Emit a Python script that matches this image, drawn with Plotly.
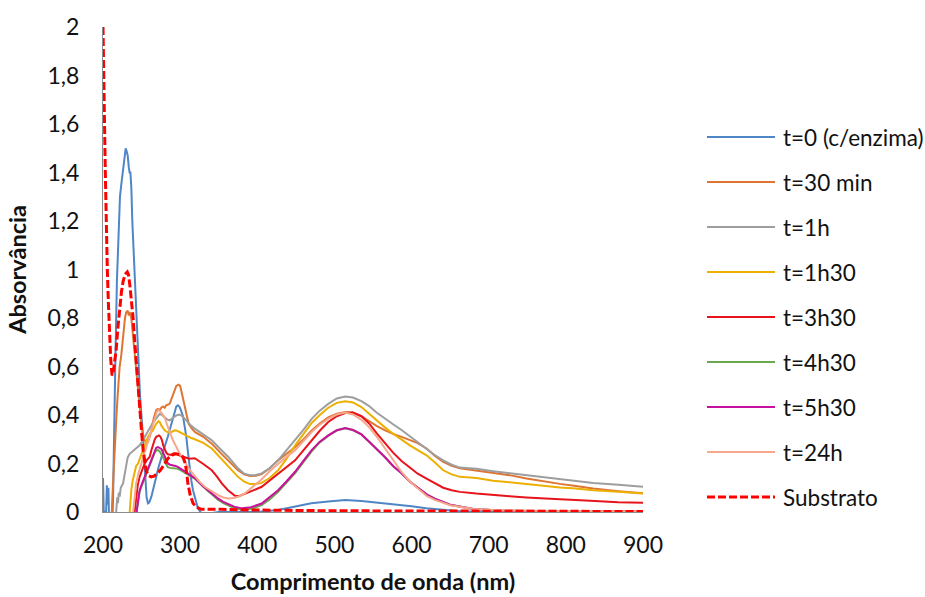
import plotly.graph_objects as go

# ---- spectra: wavelength (nm) and absorbance for each sample ----
wl_t0 = [200, 201, 204, 205, 206, 207, 208, 212, 213, 214, 216, 218, 219.5, 220.7, 222, 223.7, 225, 227, 228.5,
         229.4, 230.5, 232, 233.5, 234.5, 235.5, 236.7, 238, 240.2, 242, 245, 248, 251.8, 253.5, 254.9, 256.5,
         258.3, 260, 262.7, 266, 269, 272, 275.6, 280, 284, 288, 291, 293, 295, 297, 299, 301, 303.7, 306, 308,
         310, 312, 314.5, 316.7, 320, 323, 327.5, 332, 340, 350, 370, 400, 427, 449, 470, 492, 514, 535, 552,
         576, 600, 619, 640, 663, 700, 800, 900]
abs_t0 = [0.14, 0.0, 0.0, 0.11, 0.03, 0.10, -0.05, -0.05, 0.05, 0.3, 0.62, 0.95, 1.12, 1.23, 1.30, 1.35, 1.38, 1.44,
          1.48, 1.50, 1.49, 1.47, 1.42, 1.40, 1.40, 1.34, 1.20, 1.035, 0.88, 0.665, 0.48, 0.31, 0.20, 0.118, 0.06,
          0.036, 0.04, 0.063, 0.10, 0.145, 0.185, 0.227, 0.27, 0.31, 0.36, 0.395, 0.415, 0.435, 0.44, 0.435, 0.42,
          0.395, 0.35, 0.31, 0.25, 0.186, 0.13, 0.09, 0.045, 0.015, -0.005, -0.008, -0.005, 0.0, 0.0, 0.0, 0.008,
          0.022, 0.036, 0.043, 0.05, 0.045, 0.04, 0.033, 0.024, 0.015, 0.008, 0.003, 0.0, 0.0, 0.0]

wl_t30 = [200, 211, 212, 214, 216, 217.3, 219, 221.6, 223.8, 225.5, 227, 228.5, 230, 232, 233.5, 234.6, 236.7,
          238.5, 241, 243, 245.4, 247.5, 249.7, 252, 254, 256, 258.3, 260.5, 262.7, 266, 269, 271, 273.5, 275.5,
          277.8, 280, 282, 286.4, 288.5, 290.7, 293, 295, 298, 300, 301.5, 303.5, 305.9, 308.5, 311, 315, 319,
          330, 341, 352, 362.5, 375, 383, 390.6, 398, 405.7, 416, 427, 438, 449, 460, 470.5, 481, 492, 503, 514,
          524, 535, 545, 554.6, 565, 576, 587, 597.8, 608, 619.4, 630, 641, 652, 662.6, 684, 705.8, 727, 749,
          770, 792.3, 813, 835.5, 868, 900]
abs_t30 = [-0.3, -0.05, 0.05, 0.2, 0.32, 0.39, 0.48, 0.60, 0.65, 0.71, 0.76, 0.80, 0.823, 0.83, 0.81, 0.825, 0.80,
           0.74, 0.665, 0.58, 0.50, 0.43, 0.364, 0.32, 0.296, 0.285, 0.289, 0.31, 0.337, 0.39, 0.42, 0.425, 0.42,
           0.43, 0.435, 0.43, 0.44, 0.446, 0.465, 0.487, 0.505, 0.52, 0.525, 0.52, 0.50, 0.47, 0.433, 0.395,
           0.364, 0.345, 0.33, 0.31, 0.282, 0.245, 0.213, 0.172, 0.155, 0.148, 0.149, 0.156, 0.18, 0.213, 0.24,
           0.268, 0.30, 0.336, 0.365, 0.39, 0.405, 0.412, 0.41, 0.395, 0.375, 0.355, 0.338, 0.322, 0.31, 0.298,
           0.284, 0.262, 0.232, 0.207, 0.19, 0.18, 0.171, 0.162, 0.152, 0.138, 0.126, 0.116, 0.107, 0.097, 0.086,
           0.077]

wl_1h = [200, 216, 217.5, 218.5, 219.4, 220.5, 221.6, 223, 226, 228, 230, 232, 234.6, 238, 241, 244, 247.5, 250.5,
         254, 257, 260.5, 264, 267, 270, 273.5, 276.5, 280, 283, 286.4, 290, 295, 299, 302, 305.9, 310, 314.5,
         319, 330, 341, 352, 362.5, 375, 383, 390.6, 398, 405.7, 416, 427, 438, 449, 460, 470.5, 481, 492, 503,
         514, 524, 535, 545, 554.6, 565, 576, 587, 597.8, 608, 619.4, 630, 641, 652, 662.6, 684, 705.8, 727, 749,
         770, 792.3, 813, 835.5, 868, 900]
abs_1h = [-0.3, -0.05, 0.02, 0.06, 0.036, 0.08, 0.063, 0.10, 0.118, 0.16, 0.20, 0.225, 0.24, 0.25, 0.26, 0.265,
          0.275, 0.29, 0.31, 0.33, 0.35, 0.365, 0.378, 0.39, 0.405, 0.40, 0.39, 0.382, 0.378, 0.385, 0.398, 0.402,
          0.397, 0.385, 0.37, 0.355, 0.344, 0.32, 0.296, 0.26, 0.227, 0.18, 0.158, 0.152, 0.153, 0.159, 0.18,
          0.213, 0.255, 0.299, 0.34, 0.384, 0.418, 0.446, 0.468, 0.476, 0.472, 0.457, 0.437, 0.41, 0.385, 0.362,
          0.338, 0.312, 0.285, 0.261, 0.235, 0.213, 0.195, 0.183, 0.178, 0.168, 0.16, 0.152, 0.145, 0.135, 0.128,
          0.12, 0.112, 0.104]

wl_1h30 = [200, 233, 234.6, 235.5, 236.7, 238.5, 241, 243, 245.4, 248.5, 252, 255, 258.3, 261.5, 264.8, 267, 269,
           272, 273.8, 275.6, 278, 280, 283, 286.4, 290, 293, 296, 299, 302, 305.9, 310, 314.5, 319, 330, 341,
           352, 362.5, 375, 383, 390.6, 398, 405.7, 416, 427, 438, 449, 460, 470.5, 481, 492, 503, 514, 524, 535,
           545, 554.6, 565, 576, 587, 597.8, 608, 619.4, 630, 641, 652, 662.6, 684, 705.8, 727, 749, 770, 792.3,
           813, 835.5, 868, 900]
abs_1h30 = [-0.3, -0.05, 0.0, 0.05, 0.09, 0.13, 0.17, 0.19, 0.20, 0.225, 0.255, 0.28, 0.31, 0.325, 0.337, 0.352,
            0.364, 0.375, 0.37, 0.357, 0.345, 0.337, 0.33, 0.326, 0.332, 0.337, 0.335, 0.33, 0.325, 0.316, 0.31,
            0.305, 0.30, 0.285, 0.262, 0.225, 0.19, 0.145, 0.125, 0.115, 0.115, 0.12, 0.14, 0.172, 0.22, 0.275,
            0.322, 0.367, 0.40, 0.43, 0.45, 0.457, 0.452, 0.433, 0.405, 0.378, 0.35, 0.323, 0.298, 0.275, 0.255,
            0.234, 0.205, 0.172, 0.155, 0.145, 0.14, 0.129, 0.123, 0.115, 0.11, 0.101, 0.097, 0.09, 0.083, 0.076]

wl_3h30 = [200, 240, 241, 243, 245, 247.5, 250.5, 254, 257, 260.5, 262.7, 264.8, 267, 269, 272.6, 274.5, 276.5,
           278, 280, 282, 284, 287, 290.7, 294, 297, 300, 303.7, 308, 312, 316, 319, 330, 341, 348, 354, 362,
           371, 377, 384, 394, 405.7, 416, 427, 438, 449, 460, 470.5, 481, 492, 503, 514, 524, 535, 545, 554.6,
           565, 576, 587, 597.8, 608, 619.4, 630, 641, 652, 662.6, 684, 705.8, 727, 749, 770, 792.3, 813, 835.5,
           868, 900]
abs_3h30 = [-0.3, -0.05, 0.0, 0.063, 0.11, 0.145, 0.175, 0.20, 0.215, 0.227, 0.255, 0.282, 0.298, 0.31, 0.316,
            0.31, 0.296, 0.275, 0.255, 0.245, 0.238, 0.235, 0.234, 0.238, 0.238, 0.232, 0.227, 0.224, 0.22, 0.222,
            0.222, 0.198, 0.172, 0.145, 0.118, 0.09, 0.067, 0.066, 0.074, 0.088, 0.104, 0.13, 0.159, 0.185, 0.213,
            0.255, 0.296, 0.335, 0.371, 0.395, 0.408, 0.41, 0.395, 0.365, 0.325, 0.285, 0.245, 0.21, 0.182,
            0.158, 0.138, 0.118, 0.1, 0.09, 0.083, 0.076, 0.069, 0.065, 0.06, 0.058, 0.053, 0.049, 0.045, 0.04,
            0.038]

wl_4h30 = [200, 242, 243.5, 245.5, 247.5, 251, 254, 257, 260.5, 264, 267, 269, 271.3, 273.5, 275.6, 278, 280,
           282, 284, 287, 290.7, 294, 297, 301, 305.9, 310, 314.5, 319, 323, 330, 336, 341, 349, 356, 362.5, 370,
           380, 392, 405.7, 416, 427, 438, 449, 460, 470.5, 481, 492, 503, 514, 524, 535, 545, 555, 565, 576,
           587, 598, 610, 620, 630, 650, 680, 720, 800, 900]
abs_4h30 = [-0.3, -0.05, 0.0, 0.045, 0.085, 0.115, 0.14, 0.165, 0.195, 0.22, 0.245, 0.253, 0.256, 0.25, 0.24,
            0.225, 0.21, 0.195, 0.185, 0.182, 0.18, 0.18, 0.178, 0.172, 0.163, 0.155, 0.146, 0.138, 0.126, 0.103,
            0.087, 0.073, 0.051, 0.037, 0.027, 0.016, 0.009, 0.013, 0.028, 0.052, 0.083, 0.12, 0.16, 0.207, 0.25,
            0.287, 0.314, 0.336, 0.345, 0.338, 0.32, 0.29, 0.26, 0.228, 0.19, 0.16, 0.125, 0.095, 0.072, 0.055,
            0.03, 0.012, 0.005, 0.003, 0.002]

wl_5h30 = [200, 242, 243.5, 245.5, 247.5, 251, 254, 257, 260.5, 264, 267, 269, 271.3, 273.5, 275.6, 278, 280,
           282, 284, 287, 290.7, 294, 297, 301, 305.9, 310, 314.5, 319, 323, 330, 336, 341, 349, 356, 362.5, 370,
           380, 392, 405.7, 416, 427, 438, 449, 460, 470.5, 481, 492, 503, 514, 524, 535, 545, 555, 565, 576,
           587, 598, 610, 620, 630, 650, 680, 720, 800, 900]
abs_5h30 = [-0.3, -0.05, 0.0, 0.05, 0.09, 0.12, 0.145, 0.17, 0.20, 0.228, 0.255, 0.265, 0.268, 0.265, 0.26, 0.245,
            0.227, 0.21, 0.20, 0.195, 0.193, 0.19, 0.186, 0.178, 0.166, 0.157, 0.148, 0.14, 0.128, 0.105, 0.09,
            0.077, 0.056, 0.042, 0.033, 0.022, 0.015, 0.02, 0.035, 0.06, 0.09, 0.127, 0.166, 0.212, 0.255, 0.29,
            0.316, 0.337, 0.346, 0.338, 0.32, 0.29, 0.26, 0.228, 0.19, 0.16, 0.125, 0.095, 0.072, 0.055, 0.03,
            0.012, 0.005, 0.003, 0.002]

wl_24h = [200, 238, 239, 241, 243, 246, 249.7, 253, 256, 259, 262.7, 265, 267.8, 269.5, 271.3, 273, 275.6, 278,
          280, 282, 284, 287, 290.7, 294, 297, 300, 303.7, 307, 310, 314, 318.8, 325, 332, 341, 350, 356, 362.5,
          370, 377, 384, 394, 405.7, 416, 427, 438, 449, 460, 470.5, 481, 492, 503, 514, 524, 535, 545, 555, 565,
          576, 587, 598, 610, 620, 630, 650, 680, 720, 800, 900]
abs_24h = [-0.3, -0.05, 0.0, 0.07, 0.118, 0.16, 0.20, 0.235, 0.268, 0.30, 0.337, 0.365, 0.39, 0.41, 0.42, 0.418,
           0.41, 0.40, 0.39, 0.37, 0.35, 0.325, 0.296, 0.275, 0.255, 0.237, 0.22, 0.20, 0.186, 0.168, 0.15, 0.125,
           0.104, 0.085, 0.068, 0.06, 0.056, 0.058, 0.065, 0.077, 0.105, 0.135, 0.168, 0.20, 0.228, 0.255, 0.292,
           0.33, 0.36, 0.384, 0.402, 0.41, 0.402, 0.38, 0.35, 0.31, 0.265, 0.215, 0.165, 0.125, 0.09, 0.065, 0.05,
           0.028, 0.012, 0.006, 0.004, 0.003]

wl_sub = [200, 201, 202, 203, 204.3, 205.6, 207, 208.6, 210, 211.7, 213, 215, 217, 219, 221.6, 224, 226, 228.5,
          231.5, 233, 235, 237, 239, 241, 243, 245, 247.5, 250, 252, 254, 256, 259, 262.6, 266, 271, 275, 280, 284,
          288.6, 292, 295, 298, 301.5, 304, 306.7, 308.5, 310, 313, 316.7, 321, 327.5, 353, 400, 500, 600, 700,
          800, 900]
abs_sub = [2.0, 1.85, 1.6, 1.4, 1.15, 1.0, 0.86, 0.73, 0.63, 0.563, 0.57, 0.62, 0.665, 0.75, 0.84, 0.91, 0.95,
           0.98, 0.99, 0.98, 0.93, 0.87, 0.80, 0.71, 0.62, 0.52, 0.42, 0.33, 0.255, 0.20, 0.17, 0.15, 0.145, 0.148,
           0.16, 0.175, 0.20, 0.22, 0.234, 0.24, 0.24, 0.238, 0.234, 0.225, 0.20, 0.16, 0.118, 0.07, 0.036, 0.02,
           0.011, 0.011, 0.008, 0.005, 0.004, 0.003, 0.002, 0.002]

series_names = ["t=0 (c/enzima)", "t=30 min", "t=1h", "t=1h30", "t=3h30", "t=4h30", "t=5h30", "t=24h",
                "Substrato"]
series_wl = [wl_t0, wl_t30, wl_1h, wl_1h30, wl_3h30, wl_4h30, wl_5h30, wl_24h, wl_sub]
series_abs = [abs_t0, abs_t30, abs_1h, abs_1h30, abs_3h30, abs_4h30, abs_5h30, abs_24h, abs_sub]
series_colors = ["#4F86C6", "#DE7533", "#9E9E9E", "#EDB000", "#E8141B", "#6AA84F", "#C8119C", "#F7A88C",
                 "#FF0000"]

y_tick_vals = [0, 0.2, 0.4, 0.6, 0.8, 1, 1.2, 1.4, 1.6, 1.8, 2]
y_tick_text = ["0", "0,2", "0,4", "0,6", "0,8", "1", "1,2", "1,4", "1,6", "1,8", "2"]
x_tick_vals = [200, 300, 400, 500, 600, 700, 800, 900]

FONT = "Lato, 'Open Sans', sans-serif"
TXT = "#111111"
W, H = 925, 597
ML, MR, MT, MB = 103, 282, 27, 85
PW, PH = W - ML - MR, H - MT - MB

fig = go.Figure()
for name, xs, ys, col in zip(series_names, series_wl, series_abs, series_colors):
    dashed = name == "Substrato"
    fig.add_trace(go.Scatter(
        x=xs, y=ys, mode="lines", name=name, showlegend=False,
        line=dict(color=col, width=3 if dashed else 2, dash="8px,3px" if dashed else "solid"),
    ))

# legend drawn as line samples with labels to the right of the plot
leg_top_px, leg_step_px = 137, 45
for i, (name, col) in enumerate(zip(series_names, series_colors)):
    yp = (H - MB - (leg_top_px + leg_step_px * i)) / PH
    dashed = name == "Substrato"
    fig.add_shape(type="line", xref="paper", yref="paper",
                  x0=(707 - ML) / PW, x1=(775 - ML) / PW, y0=yp, y1=yp,
                  line=dict(color=col, width=3 if dashed else 2, dash="8px,3px" if dashed else "solid"))
    fig.add_annotation(xref="paper", yref="paper", x=(781 - ML) / PW, y=yp, text=name,
                       showarrow=False, xanchor="left", yanchor="middle",
                       font=dict(family=FONT, size=22.5, color=TXT))

fig.update_layout(
    width=W, height=H, margin=dict(l=ML, r=MR, t=MT, b=MB, autoexpand=False),
    paper_bgcolor="white", plot_bgcolor="white",
    font=dict(family=FONT, size=23, color=TXT),
    xaxis=dict(range=[200, 900], tickvals=x_tick_vals, showgrid=False, zeroline=False, automargin=False,
               showline=True, linecolor="#8C8C8C", linewidth=1, ticks="", ticklabelstandoff=12,
               tickfont=dict(family=FONT, size=23, color=TXT),
               title=dict(text="<b>Comprimento de onda (nm)</b>", standoff=16,
                          font=dict(family=FONT, size=23.5, color=TXT))),
    yaxis=dict(range=[0, 2], tickvals=y_tick_vals, ticktext=y_tick_text, showgrid=False, zeroline=False,
               automargin=False,
               showline=True, linecolor="#8C8C8C", linewidth=1, ticks="", ticklabelstandoff=18,
               tickfont=dict(family=FONT, size=23, color=TXT),
               title=dict(text="<b>Absorvância</b>", standoff=14,
                          font=dict(family=FONT, size=23.5, color=TXT))),
)

fig.write_html("out.html")
